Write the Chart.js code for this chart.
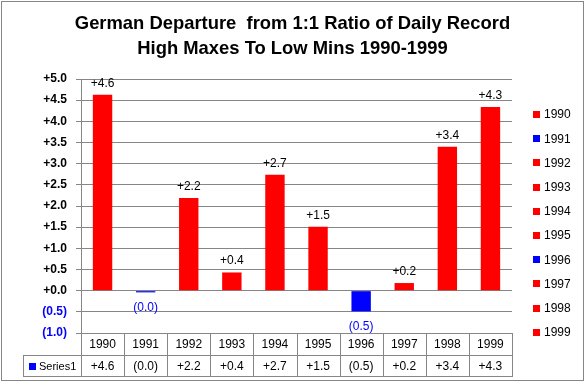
<!DOCTYPE html>
<html>
<head>
<meta charset="utf-8">
<script src="https://cdn.jsdelivr.net/npm/chart.js"></script>
<style>
  html, body { margin: 0; padding: 0; background: #fff; }
  #wrap { width: 585px; height: 382px; }
</style>
</head>
<body>
<div id="wrap"><canvas id="chart" width="585" height="382"></canvas></div>
<script>
// values
const years = ['1990', '1991', '1992', '1993', '1994', '1995', '1996', '1997', '1998', '1999'];
const departures = [4.63, -0.04, 2.19, 0.43, 2.74, 1.51, -0.49, 0.18, 3.40, 4.34];
const seriesName = 'Series1';
const titleLines = ['German Departure  from 1:1 Ratio of Daily Record', 'High Maxes To Low Mins 1990-1999'];

const RED = '#ff0000';
const BLUE = '#0000ff';
const GRID = '#868686';
const FONT = "'Liberation Sans', Arial, sans-serif";

// +4.6 for positives, (0.5) for negatives
function fmt(v) {
  if (v < 0) return '(' + Math.abs(v).toFixed(1) + ')';
  return '+' + Math.abs(v).toFixed(1);
}
const barColors = departures.map(v => v < 0 ? BLUE : RED);

// labels on top of / under the bars
const barLabels = {
  id: 'barLabels',
  afterDatasetsDraw(chart) {
    const ctx = chart.ctx;
    const meta = chart.getDatasetMeta(0);
    ctx.save();
    ctx.font = '12px ' + FONT;
    ctx.textAlign = 'center';
    ctx.textBaseline = 'alphabetic';
    meta.data.forEach((bar, i) => {
      const v = departures[i];
      if (v < 0) {
        ctx.fillStyle = BLUE;
        ctx.fillText(fmt(v), bar.x, Math.max(bar.y, bar.base) + 19);
      } else {
        ctx.fillStyle = '#000';
        ctx.fillText(fmt(v), bar.x, Math.min(bar.y, bar.base) - 8);
      }
    });
    ctx.restore();
  }
};

// title (centred on the whole canvas), data table, legend on the right, frame
const extras = {
  id: 'extras',
  afterDraw(chart) {
    const ctx = chart.ctx;
    const area = chart.chartArea;
    const xs = chart.scales.x;
    const cw = (area.right - area.left) / years.length;
    const top = area.bottom, mid = top + 22, bot = top + 43;
    const leftCell = 23;
    ctx.save();

    ctx.fillStyle = '#000';
    ctx.font = 'bold 18.4px ' + FONT;
    ctx.textAlign = 'center';
    ctx.textBaseline = 'middle';
    titleLines.forEach((t, i) => ctx.fillText(t, chart.width / 2, 24 + i * 25));

    ctx.strokeStyle = GRID;
    ctx.lineWidth = 1;
    ctx.beginPath();
    ctx.moveTo(leftCell, mid + 0.5); ctx.lineTo(area.right, mid + 0.5);
    ctx.moveTo(leftCell, bot + 0.5); ctx.lineTo(area.right + 1, bot + 0.5);
    ctx.moveTo(leftCell + 0.5, mid); ctx.lineTo(leftCell + 0.5, bot);
    for (let i = 0; i <= years.length; i++) {
      const x = Math.round(area.left + i * cw) + 0.5;
      ctx.moveTo(x, top); ctx.lineTo(x, bot);
    }
    ctx.stroke();

    ctx.font = '12px ' + FONT;
    ctx.textAlign = 'center';
    ctx.textBaseline = 'middle';
    ctx.fillStyle = '#000';
    years.forEach((y, i) => {
      const x = xs.getPixelForValue(i);
      ctx.fillText(y, x, (top + mid) / 2 + 1);
      ctx.fillText(fmt(departures[i]), x, (mid + bot) / 2 + 1);
    });
    // series key in table
    ctx.fillStyle = BLUE;
    ctx.fillRect(leftCell + 6, Math.round((mid + bot) / 2) - 3, 7, 7);
    ctx.fillStyle = '#000';
    ctx.textAlign = 'left';
    ctx.font = '11px ' + FONT;
    ctx.fillText(seriesName, leftCell + 16, (mid + bot) / 2 + 1);

    // legend on the right
    ctx.font = '12px ' + FONT;
    years.forEach((y, i) => {
      const cy = 114 + i * 24.2;
      ctx.fillStyle = barColors[i];
      ctx.fillRect(533, Math.round(cy) - 3, 7, 7);
      ctx.fillStyle = '#000';
      ctx.fillText(y, 544, cy + 1);
    });

    // outer frame
    ctx.strokeStyle = GRID;
    ctx.strokeRect(1.5, 1.5, 582, 379);
    ctx.restore();
  }
};

new Chart(document.getElementById('chart'), {
  type: 'bar',
  data: {
    labels: years,
    datasets: [{
      label: seriesName,
      data: departures,
      backgroundColor: barColors,
      borderWidth: 0,
      barPercentage: 0.45,
      categoryPercentage: 1.0
    }]
  },
  options: {
    responsive: false,
    animation: false,
    devicePixelRatio: 1,
    layout: { padding: { left: 0, right: 73, top: 79, bottom: 49 } },
    plugins: {
      legend: { display: false },
      tooltip: { enabled: false },
      title: { display: false }
    },
    scales: {
      x: {
        display: false
      },
      y: {
        min: -1,
        max: 5,
        afterFit(scale) { scale.width = 81; },
        ticks: {
          stepSize: 0.5,
          padding: 9,
          font: { family: FONT, size: 12, weight: 'bold' },
          color: ctx => ctx.tick.value < 0 ? BLUE : '#000',
          callback: v => fmt(v)
        },
        grid: { color: GRID, tickLength: 5, drawTicks: true },
        border: { color: GRID }
      }
    }
  },
  plugins: [barLabels, extras]
});
</script>
</body>
</html>
